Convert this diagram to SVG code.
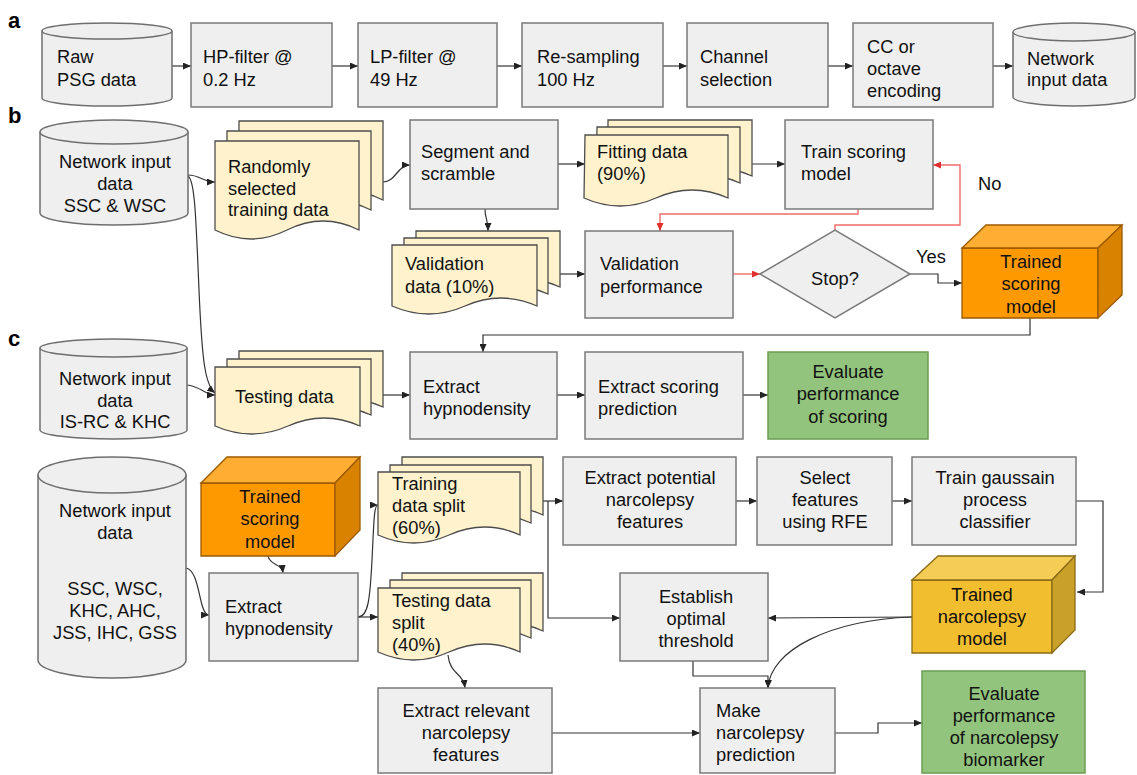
<svg xmlns="http://www.w3.org/2000/svg" width="1137" height="775" viewBox="0 0 1137 775">
<style>
text{font-family:"Liberation Sans",Arial,Helvetica,sans-serif;font-size:18.3px;fill:#111}
.lbl{font-weight:bold;font-size:22px;fill:#000}
.mid{text-anchor:middle}
.box{fill:#efefef;stroke:#7a7a7a;stroke-width:1.5}
.cyl{fill:#efefef;stroke:#6e6e6e;stroke-width:1.5}
.doc{fill:#fff2cc;stroke:#4d4d4d;stroke-width:1.3}
.grn{fill:#93c47d;stroke:#6a9e52;stroke-width:1.5}
.c{fill:none;stroke:#333;stroke-width:1.2;marker-end:url(#ah)}
.r{fill:none;stroke:#f06b6b;stroke-width:1.4}
.ra{marker-end:url(#ahr)}
</style>
<defs>
<marker id="ah" viewBox="0 0 8 7" refX="8" refY="3.5" markerWidth="8" markerHeight="7" markerUnits="userSpaceOnUse" orient="auto"><path d="M0,0 L8,3.5 L0,7 z" fill="#222"/></marker>
<marker id="ahr" viewBox="0 0 8 7" refX="8" refY="3.5" markerWidth="8" markerHeight="7" markerUnits="userSpaceOnUse" orient="auto"><path d="M0,0 L8,3.5 L0,7 z" fill="#e03030"/></marker>
</defs>
<rect width="1137" height="775" fill="#fff"/>

<text class="lbl" x="8" y="28">a</text>
<text class="lbl" x="8" y="123">b</text>
<text class="lbl" x="8" y="346">c</text>

<g id="connectors">
<path class="c" d="M172,66 H191"/>
<path class="c" d="M332,66 H358"/>
<path class="c" d="M497,66 H522"/>
<path class="c" d="M663,66 H687"/>
<path class="c" d="M828,66 H853"/>
<path class="c" d="M993,66 H1013"/>

<path class="c" d="M188,175 C200,175 203,182 215,182"/>
<path class="c" d="M188,176 C195,180 196,220 199,290 C202,360 205,385 215,393"/>
<path class="c" d="M383,182 C396,182 397,165 410,165"/>
<path class="c" d="M558,164 H585"/>
<path class="c" d="M752,164 H785"/>
<path class="c" d="M485,209 C485,220 488,218 488,231"/>
<path class="c" d="M560,274 H585"/>
<path class="r ra" d="M858,209 V214 H660 V231"/>
<path class="r ra" d="M733,274 H760"/>
<path class="r ra" d="M835,230 V225 H960 V165 H933"/>
<path class="c" d="M910,274 H938 V283 H962"/>
<path class="c" d="M1030,318 V335 H483 V352"/>

<path class="c" d="M187,385 C200,386 205,395 215,395"/>
<path class="c" d="M382,395 H410"/>
<path class="c" d="M557,395 H585"/>
<path class="c" d="M743,395 H768"/>

<path class="c" d="M186,568 C196,570 198,590 202,605 C204,612 206,615 209,615"/>
<path class="c" d="M268,556 C270,566 282,563 283,573"/>
<path class="c" d="M358,617 H378"/>
<path class="c" d="M358,617 C368,617 370,600 372,560 C374,520 374,505 378,505"/>
<path class="c" d="M543,501 H563"/>
<path class="c" d="M548,501 V618 H620"/>
<path class="c" d="M736,501 H757"/>
<path class="c" d="M892,501 H912"/>
<path class="c" d="M1076,501 H1103 V592 H1077"/>
<path class="c" d="M912,617 C860,617 820,618 768,618"/>
<path class="c" d="M912,617 C830,620 770,650 768,688"/>
<path class="c" d="M693,661 V676 H768 V688"/>
<path class="c" d="M448,655 C450,675 463,672 465,688"/>
<path class="c" d="M552,733 H700"/>
<path class="c" d="M835,733 H878 V723 H922"/>
</g>

<!-- a -->
<g id="raw">
<path class="cyl" d="M42,31 A65,8 0 0 1 172,31 V98 A65,8 0 0 1 42,98 Z"/>
<path class="cyl" fill="none" d="M42,31 A65,8 0 0 0 172,31"/>
<text x="57" y="63">Raw</text><text x="57" y="86">PSG data</text>
</g>
<g id="hp"><rect class="box" x="191" y="23" width="141" height="84"/><text x="203" y="63">HP-filter @</text><text x="203" y="86">0.2 Hz</text></g>
<g id="lp"><rect class="box" x="358" y="23" width="139" height="84"/><text x="370" y="63">LP-filter @</text><text x="370" y="86">49 Hz</text></g>
<g id="rs"><rect class="box" x="522" y="23" width="141" height="84"/><text x="537" y="63">Re-sampling</text><text x="537" y="86">100 Hz</text></g>
<g id="ch"><rect class="box" x="687" y="23" width="141" height="84"/><text x="700" y="63">Channel</text><text x="700" y="86">selection</text></g>
<g id="cc"><rect class="box" x="853" y="23" width="140" height="84"/><text x="867" y="53">CC or</text><text x="867" y="75">octave</text><text x="867" y="97">encoding</text></g>
<g id="netin">
<path class="cyl" d="M1013,32 A61,9 0 0 1 1135,32 V97 A61,9 0 0 1 1013,97 Z"/>
<path class="cyl" fill="none" d="M1013,32 A61,9 0 0 0 1135,32"/>
<text x="1027" y="65">Network</text><text x="1027" y="86">input data</text>
</g>

<!-- b -->
<g id="cylb">
<path class="cyl" d="M40,132 A74,12 0 0 1 188,132 V213 A74,12 0 0 1 40,213 Z"/>
<path class="cyl" fill="none" d="M40,132 A74,12 0 0 0 188,132"/>
<text class="mid" x="115" y="168">Network input</text><text class="mid" x="115" y="190">data</text><text class="mid" x="115" y="212">SSC &amp; WSC</text>
</g>
<g id="randomly">
<path class="doc" d="M239,121 h144 v79 q-36,-18 -72,0 q-36,18 -72,0 z"/>
<path class="doc" d="M227,131 h144 v79 q-36,-18 -72,0 q-36,18 -72,0 z"/>
<path class="doc" d="M215,141 h144 v89 q-36,-18 -72,0 q-36,18 -72,0 z"/>
<text x="228" y="173">Randomly</text><text x="228" y="195">selected</text><text x="228" y="216">training data</text>
</g>
<g id="segment"><rect class="box" x="410" y="120" width="148" height="89"/><text x="421" y="158">Segment and</text><text x="421" y="180">scramble</text></g>
<g id="fitting">
<path class="doc" d="M608,120 h144 v56 q-36,-16 -72,0 q-36,16 -72,0 z"/>
<path class="doc" d="M597,127 h143 v56 q-36,-16 -72,0 q-36,16 -72,0 z"/>
<path class="doc" d="M585,135 h143 v63 q-36,-16 -72,0 q-36,16 -72,0 z"/>
<text x="597" y="158">Fitting data</text><text x="597" y="180">(90%)</text>
</g>
<g id="train"><rect class="box" x="785" y="120" width="148" height="89"/><text x="801" y="158">Train scoring</text><text x="801" y="180">model</text></g>
<text x="978" y="190">No</text>
<g id="valdata">
<path class="doc" d="M416,231 h144 v56 q-36,-16 -72,0 q-36,16 -72,0 z"/>
<path class="doc" d="M404,238 h144 v56 q-36,-16 -72,0 q-36,16 -72,0 z"/>
<path class="doc" d="M392,245 h145 v61 q-36,-16 -72,0 q-36,16 -73,0 z"/>
<text x="405" y="270">Validation</text><text x="405" y="293">data (10%)</text>
</g>
<g id="valperf"><rect class="box" x="585" y="231" width="148" height="87"/><text x="600" y="270">Validation</text><text x="600" y="293">performance</text></g>
<g id="stop"><polygon class="box" points="760,274 835,230 910,274 835,318"/><text class="mid" x="835" y="285">Stop?</text></g>
<text x="916" y="263">Yes</text>
<g id="cubeb">
<polygon fill="#ff9900" stroke="#9c5a00" stroke-width="1.3" points="962,248 1098,248 1098,318 962,318"/>
<polygon fill="#ffad33" stroke="#9c5a00" stroke-width="1.3" points="962,248 986,225 1122,225 1098,248"/>
<polygon fill="#d98200" stroke="#9c5a00" stroke-width="1.3" points="1098,248 1122,225 1122,295 1098,318"/>
<text class="mid" x="1031" y="268">Trained</text><text class="mid" x="1031" y="290">scoring</text><text class="mid" x="1031" y="313">model</text>
</g>

<!-- c -->
<g id="cylc">
<path class="cyl" d="M40,348 A73.5,9 0 0 1 187,348 V430 A73.5,9 0 0 1 40,430 Z"/>
<path class="cyl" fill="none" d="M40,348 A73.5,9 0 0 0 187,348"/>
<text class="mid" x="115" y="385">Network input</text><text class="mid" x="115" y="407">data</text><text class="mid" x="115" y="428">IS-RC &amp; KHC</text>
</g>
<g id="testing">
<path class="doc" d="M239,351 h144 v56 q-36,-16 -72,0 q-36,16 -72,0 z"/>
<path class="doc" d="M227,359 h144 v56 q-36,-16 -72,0 q-36,16 -72,0 z"/>
<path class="doc" d="M215,367 h145 v59 q-36,-16 -72,0 q-36,16 -73,0 z"/>
<text x="235" y="403">Testing data</text>
</g>
<g id="exhyp"><rect class="box" x="410" y="352" width="147" height="87"/><text x="423" y="393">Extract</text><text x="423" y="415">hypnodensity</text></g>
<g id="exscore"><rect class="box" x="585" y="352" width="158" height="87"/><text x="598" y="393">Extract scoring</text><text x="598" y="415">prediction</text></g>
<g id="evalscore"><rect class="grn" x="768" y="352" width="160" height="87"/><text class="mid" x="848" y="378">Evaluate</text><text class="mid" x="848" y="400">performance</text><text class="mid" x="848" y="423">of scoring</text></g>

<!-- bottom -->
<g id="cylbig">
<path class="cyl" d="M38,475 A74,18 0 0 1 186,475 V660 A74,18 0 0 1 38,660 Z"/>
<path class="cyl" fill="none" d="M38,475 A74,18 0 0 0 186,475"/>
<text class="mid" x="115" y="517">Network input</text><text class="mid" x="115" y="539">data</text>
<text class="mid" x="115" y="595">SSC, WSC,</text><text class="mid" x="115" y="617">KHC, AHC,</text><text class="mid" x="115" y="639">JSS, IHC, GSS</text>
</g>
<g id="cubec">
<polygon fill="#ff9900" stroke="#9c5a00" stroke-width="1.3" points="201,483 335,483 335,556 201,556"/>
<polygon fill="#ffad33" stroke="#9c5a00" stroke-width="1.3" points="201,483 227,457 360,457 335,483"/>
<polygon fill="#d98200" stroke="#9c5a00" stroke-width="1.3" points="335,483 360,457 360,530 335,556"/>
<text class="mid" x="270" y="503">Trained</text><text class="mid" x="270" y="525">scoring</text><text class="mid" x="270" y="548">model</text>
</g>
<g id="exhyp2"><rect class="box" x="209" y="573" width="149" height="88"/><text x="225" y="613">Extract</text><text x="225" y="635">hypnodensity</text></g>
<g id="trainsplit">
<path class="doc" d="M402,457 h141 v58 q-35,-16 -70,0 q-35,16 -71,0 z"/>
<path class="doc" d="M390,465 h141 v58 q-35,-16 -70,0 q-35,16 -71,0 z"/>
<path class="doc" d="M378,472 h142 v63 q-35,-16 -71,0 q-35,16 -71,0 z"/>
<text x="392" y="490">Training</text><text x="392" y="512">data split</text><text x="392" y="534">(60%)</text>
</g>
<g id="testsplit">
<path class="doc" d="M402,573 h141 v58 q-35,-16 -70,0 q-35,16 -71,0 z"/>
<path class="doc" d="M390,580 h141 v58 q-35,-16 -70,0 q-35,16 -71,0 z"/>
<path class="doc" d="M378,588 h142 v64 q-35,-16 -71,0 q-35,16 -71,0 z"/>
<text x="392" y="607">Testing data</text><text x="392" y="629">split</text><text x="392" y="651">(40%)</text>
</g>
<g id="expot"><rect class="box" x="563" y="457" width="173" height="88"/><text class="mid" x="650" y="484">Extract potential</text><text class="mid" x="650" y="506">narcolepsy</text><text class="mid" x="650" y="528">features</text></g>
<g id="select"><rect class="box" x="757" y="457" width="135" height="88"/><text class="mid" x="825" y="484">Select</text><text class="mid" x="825" y="506">features</text><text class="mid" x="825" y="528">using RFE</text></g>
<g id="gauss"><rect class="box" x="912" y="457" width="164" height="88"/><text class="mid" x="995" y="484">Train gaussain</text><text class="mid" x="995" y="506">process</text><text class="mid" x="995" y="528">classifier</text></g>
<g id="cuben">
<polygon fill="#f1be2f" stroke="#8a6b17" stroke-width="1.3" points="912,580 1052,580 1052,653 912,653"/>
<polygon fill="#f5cc55" stroke="#8a6b17" stroke-width="1.3" points="912,580 938,556 1075,556 1052,580"/>
<polygon fill="#c9a02a" stroke="#8a6b17" stroke-width="1.3" points="1052,580 1075,556 1075,630 1052,653"/>
<text class="mid" x="982" y="601">Trained</text><text class="mid" x="982" y="623">narcolepsy</text><text class="mid" x="982" y="645">model</text>
</g>
<g id="establish"><rect class="box" x="620" y="573" width="148" height="88"/><text class="mid" x="696" y="603">Establish</text><text class="mid" x="696" y="625">optimal</text><text class="mid" x="696" y="647">threshold</text></g>
<g id="exrel"><rect class="box" x="378" y="688" width="174" height="85"/><text class="mid" x="466" y="717">Extract relevant</text><text class="mid" x="466" y="739">narcolepsy</text><text class="mid" x="466" y="761">features</text></g>
<g id="make"><rect class="box" x="700" y="688" width="135" height="85"/><text x="716" y="717">Make</text><text x="716" y="739">narcolepsy</text><text x="716" y="761">prediction</text></g>
<g id="evalbio"><rect class="grn" x="922" y="671" width="163" height="102"/><text class="mid" x="1004" y="700">Evaluate</text><text class="mid" x="1004" y="722">performance</text><text class="mid" x="1004" y="744">of narcolepsy</text><text class="mid" x="1004" y="766">biomarker</text></g>
</svg>
